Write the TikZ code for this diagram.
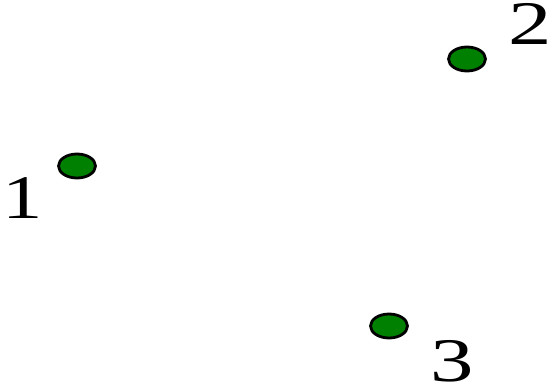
\documentclass[tikz,border=0pt]{standalone}
\usepackage{fontspec}
\setmainfont{Liberation Serif}
\usetikzlibrary{shapes.geometric}
\definecolor{dotgreen}{RGB}{0,128,0}
\begin{document}
\begin{tikzpicture}[x=1pt,y=1pt,
  dot/.style={ellipse,draw=black,line width=2.8pt,fill=dotgreen,minimum width=37pt,minimum height=24pt,inner sep=0pt},
  lbl/.style={inner sep=0pt,font=\fontsize{62}{62}\selectfont}]
\useasboundingbox (0,0) rectangle (553,384);
\node[dot] (d1) at (77,218) {};
\node[dot] (d2) at (467,325) {};
\node[dot] (d3) at (389,58) {};
\node[lbl] (l1) at (23,186) {\scalebox{1.3}[1]{1}};
\node[lbl] (l2) at (530,360) {\scalebox{1.4}[1]{2}};
\node[lbl] (l3) at (452,23) {\scalebox{1.4}[1]{3}};
\end{tikzpicture}
\end{document}
